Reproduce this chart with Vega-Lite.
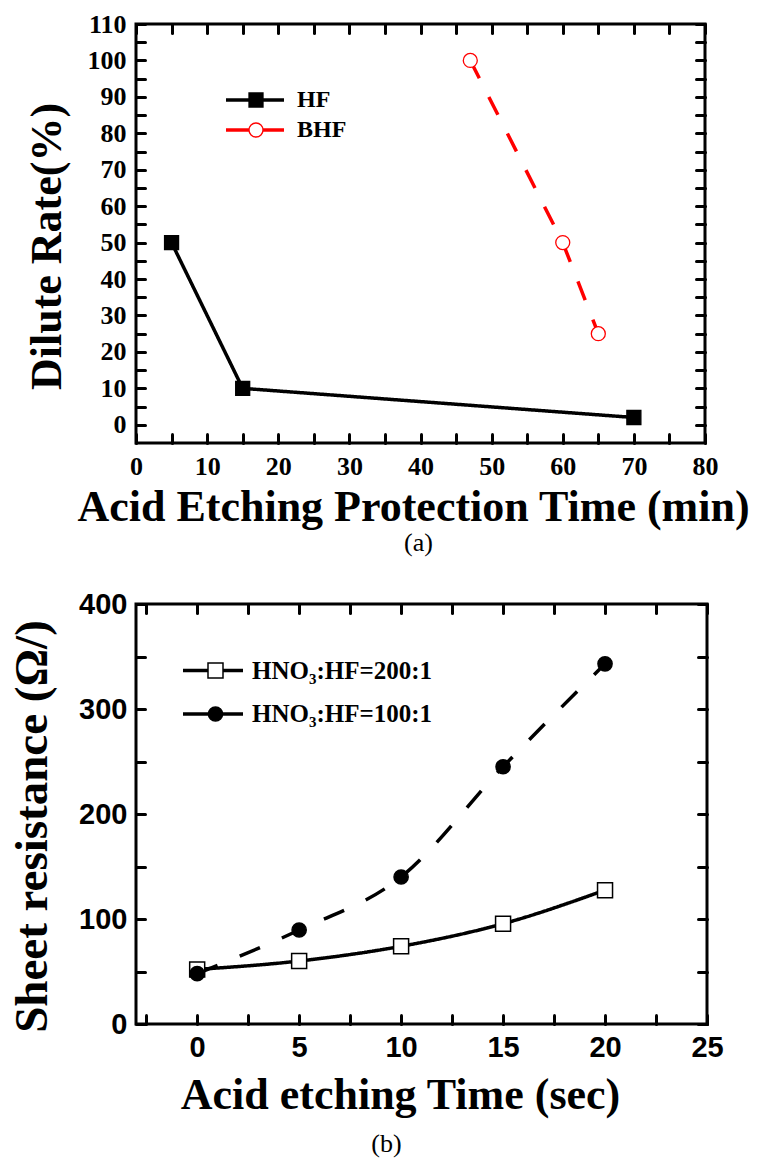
{
  "$schema": "https://vega.github.io/schema/vega-lite/v6.json",
  "background": "white",
  "padding": {"left": 7, "top": 9, "right": 0, "bottom": 0},
  "spacing": 30,
  "config": {
    "view": {"stroke": "black", "strokeWidth": 3},
    "axis": {"grid": false, "domain": false, "tickColor": "black", "tickWidth": 3, "tickSize": -9, "tickCap": "round", "labelColor": "black", "titleColor": "black", "labelOverlap": false, "labelFlush": false, "labelBound": false},
    "legend": {"orient": "none", "padding": 0, "labelLimit": 0}
  },
  "resolve": {
    "scale": {"color": "independent", "fill": "independent", "stroke": "independent", "shape": "independent", "strokeDash": "independent", "size": "independent"},
    "legend": {"color": "independent", "fill": "independent", "stroke": "independent", "shape": "independent", "strokeDash": "independent", "size": "independent"}
  },
  "vconcat": [
    {
      "width": 569,
      "height": 419,
      "title": {"text": "(a)", "orient": "bottom", "font": "Liberation Serif", "fontWeight": "normal", "fontSize": 26, "color": "black", "anchor": "middle", "frame": "group", "offset": 1, "dx": -2},
      "data": {"values": [
        {"series": "HF", "time": 5, "rate": 50},
        {"series": "HF", "time": 15, "rate": 10},
        {"series": "HF", "time": 70, "rate": 2},
        {"series": "BHF", "time": 47, "rate": 100},
        {"series": "BHF", "time": 60, "rate": 50},
        {"series": "BHF", "time": 65, "rate": 25}
      ]},
      "layer": [
        {
          "mark": {"type": "line", "strokeWidth": 3.5},
          "encoding": {
            "x": {"field": "time", "type": "quantitative", "scale": {"domain": [0, 80], "nice": false, "zero": false},
              "axis": {"values": [0,5,10,15,20,25,30,35,40,45,50,55,60,65,70,75,80], "labelExpr": "datum.value % 10 === 0 ? datum.label : ''", "title": "Acid Etching Protection Time (min)", "labelFont": "Liberation Serif", "labelFontWeight": "bold", "labelFontSize": 26, "labelPadding": 19, "titleFont": "Liberation Serif", "titleFontWeight": "bold", "titleFontSize": 44, "titlePadding": 6, "titleX": 277, "titleAlign": "center"}},
            "y": {"field": "rate", "type": "quantitative", "scale": {"domain": [-5, 110], "nice": false, "zero": false},
              "axis": {"values": [0,5,10,15,20,25,30,35,40,45,50,55,60,65,70,75,80,85,90,95,100,105,110], "labelExpr": "datum.value % 10 === 0 ? datum.label : ''", "title": "Dilute Rate(%)", "labelFont": "Liberation Serif", "labelFontWeight": "bold", "labelFontSize": 26, "labelPadding": 19, "titleFont": "Liberation Serif", "titleFontWeight": "bold", "titleFontSize": 44, "titlePadding": 18, "titleY": 222}},
            "color": {"field": "series", "type": "nominal", "scale": {"domain": ["HF", "BHF"], "range": ["#000000", "#ff0000"]},
              "legend": {"title": null, "zindex": 0, "legendX": 88, "legendY": 64, "symbolType": "stroke", "symbolSize": 3364, "symbolStrokeWidth": 3.5, "clipHeight": 24, "labelOffset": 11, "rowPadding": 6, "labelFont": "Liberation Serif", "labelFontWeight": "bold", "labelFontSize": 24, "labelColor": "black"}},
            "strokeDash": {"field": "series", "type": "nominal", "scale": {"domain": ["HF", "BHF", "-"], "range": [[1, 0], [20, 21], [1, 0]]}, "legend": null}
          }
        },
        {
          "mark": {"type": "point", "filled": true, "opacity": 1, "size": 196, "strokeWidth": 1.3},
          "encoding": {
            "x": {"field": "time", "type": "quantitative", "scale": {"domain": [0, 80], "nice": false, "zero": false},
              "axis": {"orient": "top", "values": [0,5,10,15,20,25,30,35,40,45,50,55,60,65,70,75,80], "labels": false, "title": null}},
            "y": {"field": "rate", "type": "quantitative", "scale": {"domain": [-5, 110], "nice": false, "zero": false},
              "axis": {"orient": "right", "values": [0,5,10,15,20,25,30,35,40,45,50,55,60,65,70,75,80,85,90,95,100,105,110], "labels": false, "title": null}},
            "shape": {"field": "series", "type": "nominal", "scale": {"domain": ["BHF", "HF"], "range": ["circle", "square"]},
              "legend": {"title": null, "zindex": 1, "values": ["HF", "BHF"], "legendX": 108, "legendY": 64, "symbolSize": 196, "symbolStrokeWidth": 1.3, "clipHeight": 24, "labelOffset": 11, "rowPadding": 6, "labelFont": "Liberation Serif", "labelFontWeight": "bold", "labelFontSize": 24, "labelExpr": "' '"}},
            "fill": {"field": "series", "type": "nominal", "scale": {"domain": ["BHF", "HF"], "range": ["#ffffff", "#000000"]}},
            "stroke": {"field": "series", "type": "nominal", "scale": {"domain": ["BHF", "HF"], "range": ["#ff0000", "#000000"]}}
          }
        }
      ],
      "resolve": {"axis": {"x": "independent", "y": "independent"}}
    },
    {
      "width": 571,
      "height": 420,
      "title": {"text": "(b)", "orient": "bottom", "font": "Liberation Serif", "fontWeight": "normal", "fontSize": 26, "color": "black", "anchor": "middle", "frame": "group", "offset": 14, "dx": -35},
      "data": {"values": [
        {"series": "HNO₃:HF=200:1", "time": 0, "resistance": 52},
        {"series": "HNO₃:HF=200:1", "time": 5, "resistance": 60},
        {"series": "HNO₃:HF=200:1", "time": 10, "resistance": 74},
        {"series": "HNO₃:HF=200:1", "time": 15, "resistance": 95.5},
        {"series": "HNO₃:HF=200:1", "time": 20, "resistance": 127.5},
        {"series": "HNO₃:HF=100:1", "time": 0, "resistance": 48},
        {"series": "HNO₃:HF=100:1", "time": 5, "resistance": 89.5},
        {"series": "HNO₃:HF=100:1", "time": 10, "resistance": 140},
        {"series": "HNO₃:HF=100:1", "time": 15, "resistance": 245},
        {"series": "HNO₃:HF=100:1", "time": 20, "resistance": 343}
      ]},
      "layer": [
        {
          "mark": {"type": "line", "strokeWidth": 3.5, "interpolate": "monotone"},
          "encoding": {
            "x": {"field": "time", "type": "quantitative", "scale": {"domain": [-3, 25], "nice": false, "zero": false},
              "axis": {"values": [-2.5,0,2.5,5,7.5,10,12.5,15,17.5,20,22.5,25], "labelExpr": "datum.value % 5 === 0 ? datum.label : ''", "title": "Acid etching Time (sec)", "labelFont": "Liberation Sans", "labelFontWeight": "bold", "labelFontSize": 29, "labelPadding": 18, "titleFont": "Liberation Serif", "titleFontWeight": "bold", "titleFontSize": 44, "titlePadding": 11, "titleX": 264, "titleAlign": "center"}},
            "y": {"field": "resistance", "type": "quantitative", "scale": {"domain": [0, 400], "nice": false, "zero": false},
              "axis": {"values": [0,50,100,150,200,250,300,350,400], "labelExpr": "datum.value % 100 === 0 ? datum.label : ''", "title": "Sheet resistance (Ω/)", "labelFont": "Liberation Sans", "labelFontWeight": "bold", "labelFontSize": 29, "labelPadding": 18, "titleFont": "Liberation Serif", "titleFontWeight": "bold", "titleFontSize": 47, "titlePadding": 22, "titleY": 222}},
            "color": {"field": "series", "type": "nominal", "scale": {"domain": ["HNO₃:HF=200:1", "HNO₃:HF=100:1"], "range": ["#000000", "#000000"]},
              "legend": {"title": null, "zindex": 0, "legendX": 45, "legendY": 54, "symbolType": "stroke", "symbolSize": 3600, "symbolStrokeWidth": 3.5, "clipHeight": 25, "labelOffset": 7, "rowPadding": 17.5, "labelFont": "Liberation Serif", "labelFontWeight": "bold", "labelFontSize": 25, "labelColor": "black"}},
            "strokeDash": {"field": "series", "type": "nominal", "scale": {"domain": ["HNO₃:HF=200:1", "HNO₃:HF=100:1", "-"], "range": [[1, 0], [22, 24], [1, 0]]}, "legend": null}
          }
        },
        {
          "mark": {"type": "point", "filled": true, "opacity": 1, "strokeWidth": 1.5},
          "encoding": {
            "x": {"field": "time", "type": "quantitative", "scale": {"domain": [-3, 25], "nice": false, "zero": false},
              "axis": {"orient": "top", "values": [-2.5,0,2.5,5,7.5,10,12.5,15,17.5,20,22.5,25], "labels": false, "title": null}},
            "y": {"field": "resistance", "type": "quantitative", "scale": {"domain": [0, 400], "nice": false, "zero": false},
              "axis": {"orient": "right", "values": [0,50,100,150,200,250,300,350,400], "labels": false, "title": null}},
            "shape": {"field": "series", "type": "nominal", "scale": {"domain": ["HNO₃:HF=100:1", "HNO₃:HF=200:1"], "range": ["circle", "square"]},
              "legend": {"title": null, "zindex": 1, "values": ["HNO₃:HF=200:1", "HNO₃:HF=100:1"], "legendX": 67, "legendY": 54, "symbolStrokeColor": "#000000", "symbolStrokeWidth": 1.5, "clipHeight": 25, "labelOffset": 7, "rowPadding": 17.5, "labelFont": "Liberation Serif", "labelFontWeight": "bold", "labelFontSize": 25, "labelExpr": "' '"}},
            "size": {"field": "series", "type": "nominal", "scale": {"domain": ["HNO₃:HF=100:1", "HNO₃:HF=200:1"], "range": [201, 225]}},
            "fill": {"field": "series", "type": "nominal", "scale": {"domain": ["HNO₃:HF=100:1", "HNO₃:HF=200:1"], "range": ["#000000", "#ffffff"]}},
            "stroke": {"value": "#000000"}
          }
        }
      ],
      "resolve": {"axis": {"x": "independent", "y": "independent"}}
    }
  ]
}
